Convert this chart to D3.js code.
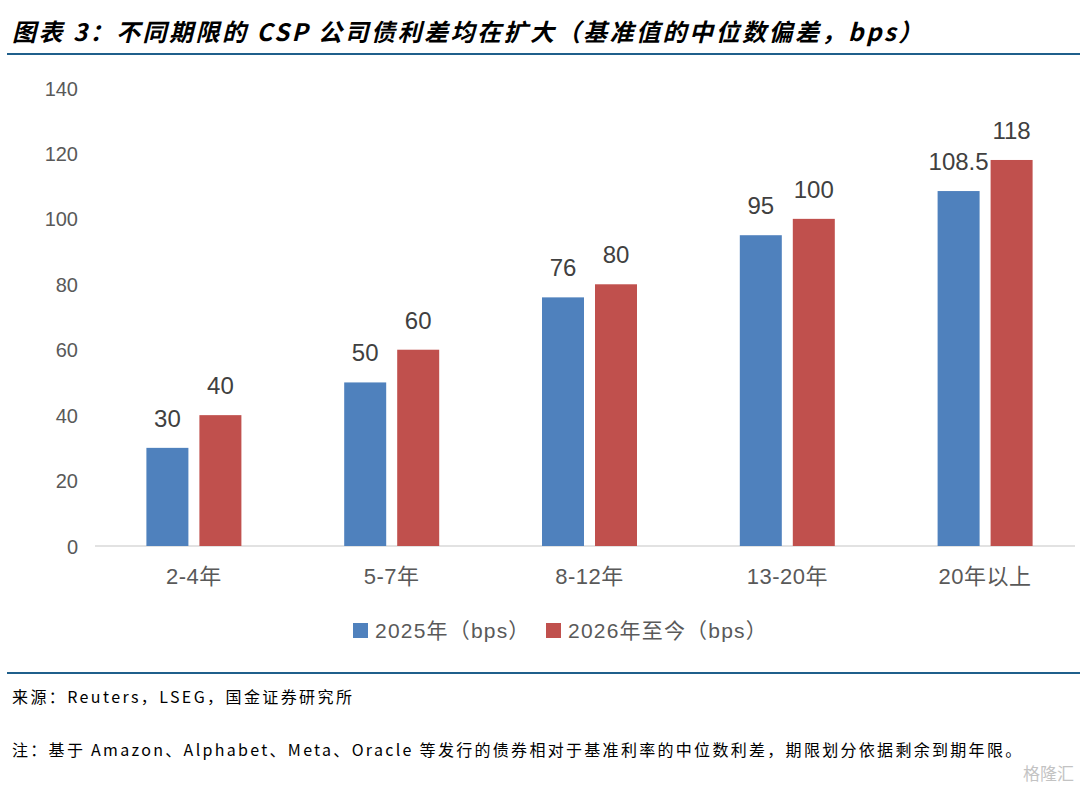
<!DOCTYPE html>
<html>
<head>
<meta charset="utf-8">
<script src="https://cdn.jsdelivr.net/npm/d3@7"></script>
<style>
  body { margin: 0; background: #fff; }
  svg { display: block; }
</style>
</head>
<body>
<div id="chart"></div>
<script>
// chart data
const categories = ["2-4年", "5-7年", "8-12年", "13-20年", "20年以上"];
const seriesNames = ["2025年（bps）", "2026年至今（bps）"];
const values2025 = [30, 50, 76, 95, 108.5];
const values2026 = [40, 60, 80, 100, 118];
const yTicks = [0, 20, 40, 60, 80, 100, 120, 140];
const colors = ["#4F81BD", "#C0504D"];

const width = 1080, height = 786;
const cjk = "'Noto Sans CJK SC', 'Liberation Sans', sans-serif";
const mixed = "'Liberation Sans', 'Noto Sans CJK SC', sans-serif";

let svg = d3.select("#chart").append("svg")
    .attr("width", width)
    .attr("height", height);

// title + rules
svg.append("text")
    .attr("x", 12).attr("y", 41)
    .attr("font-family", cjk)
    .attr("font-size", 24)
    .attr("font-weight", "bold")
    .attr("font-style", "italic")
    .attr("letter-spacing", 2.5)
    .attr("fill", "#000")
    .text("图表 3：不同期限的 CSP 公司债利差均在扩大（基准值的中位数偏差，bps）");

svg.append("line")
    .attr("x1", 7).attr("x2", width).attr("y1", 54).attr("y2", 54)
    .attr("stroke", "#1f5f8b").attr("stroke-width", 2);

svg.append("line")
    .attr("x1", 7).attr("x2", width).attr("y1", 673).attr("y2", 673)
    .attr("stroke", "#1f5f8b").attr("stroke-width", 2);

// scales
let x0 = d3.scaleBand()
    .domain(categories)
    .range([95, 1084]);

let y = d3.scaleLinear()
    .domain([0, 140])
    .range([546, 88]);

const barW = 42, barGap = 11;

// y axis labels
let yAxis = d3.axisLeft(y).tickValues(yTicks).tickSize(0).tickPadding(0);
let gy = svg.append("g")
    .attr("transform", "translate(78,0)")
    .call(yAxis);
gy.select(".domain").remove();
gy.selectAll("text")
    .attr("font-family", mixed)
    .attr("font-size", 20)
    .attr("fill", "#595959")
    .attr("dy", "0.35em");

// x axis
let xAxis = d3.axisBottom(x0).tickSize(0).tickPadding(22);
let gx = svg.append("g")
    .attr("transform", `translate(0,${y(0)})`)
    .call(xAxis);
gx.select(".domain").remove();
gx.selectAll("text")
    .attr("font-family", mixed)
    .attr("font-size", 22)
    .attr("letter-spacing", 0.5)
    .attr("fill", "#595959");

svg.append("line")
    .attr("x1", 95).attr("x2", 1075)
    .attr("y1", y(0)).attr("y2", y(0))
    .attr("stroke", "#d9d9d9").attr("stroke-width", 1.5);

// bars
const series = [values2025, values2026];
series.forEach((vals, si) => {
    const offset = si === 0 ? -(barW + barGap / 2) : barGap / 2;
    svg.append("g").selectAll("rect")
        .data(vals)
        .enter()
        .append("rect")
        .attr("x", (d, i) => x0(categories[i]) + x0.bandwidth() / 2 + offset)
        .attr("y", d => y(d))
        .attr("width", barW)
        .attr("height", d => y(0) - y(d))
        .attr("fill", colors[si]);

    svg.append("g").selectAll("text")
        .data(vals)
        .enter()
        .append("text")
        .attr("x", (d, i) => x0(categories[i]) + x0.bandwidth() / 2 + offset + barW / 2)
        .attr("y", d => y(d) - 21)
        .attr("text-anchor", "middle")
        .attr("font-family", mixed)
        .attr("font-size", 24)
        .attr("fill", "#404040")
        .text(d => d);
});

// legend
const legendX = [353, 546];
seriesNames.forEach((name, i) => {
    svg.append("rect")
        .attr("x", legendX[i]).attr("y", 623)
        .attr("width", 15).attr("height", 15)
        .attr("fill", colors[i]);
    svg.append("text")
        .attr("x", legendX[i] + 22).attr("y", 638)
        .attr("font-family", mixed)
        .attr("font-size", 21)
        .attr("letter-spacing", 1.2)
        .attr("fill", "#595959")
        .text(name);
});

// footer
svg.append("text")
    .attr("x", 12).attr("y", 703)
    .attr("font-family", cjk)
    .attr("font-size", 16)
    .attr("letter-spacing", 2.4)
    .attr("fill", "#000")
    .text("来源：Reuters，LSEG，国金证券研究所");

svg.append("text")
    .attr("x", 12).attr("y", 756)
    .attr("font-family", cjk)
    .attr("font-size", 16)
    .attr("letter-spacing", 2.3)
    .attr("fill", "#000")
    .text("注：基于 Amazon、Alphabet、Meta、Oracle 等发行的债券相对于基准利率的中位数利差，期限划分依据剩余到期年限。");

svg.append("text")
    .attr("x", 1074).attr("y", 780)
    .attr("text-anchor", "end")
    .attr("font-family", cjk)
    .attr("font-size", 17)
    .attr("fill", "#b5b5b5")
    .attr("opacity", 0.8)
    .text("格隆汇");
</script>
</body>
</html>
